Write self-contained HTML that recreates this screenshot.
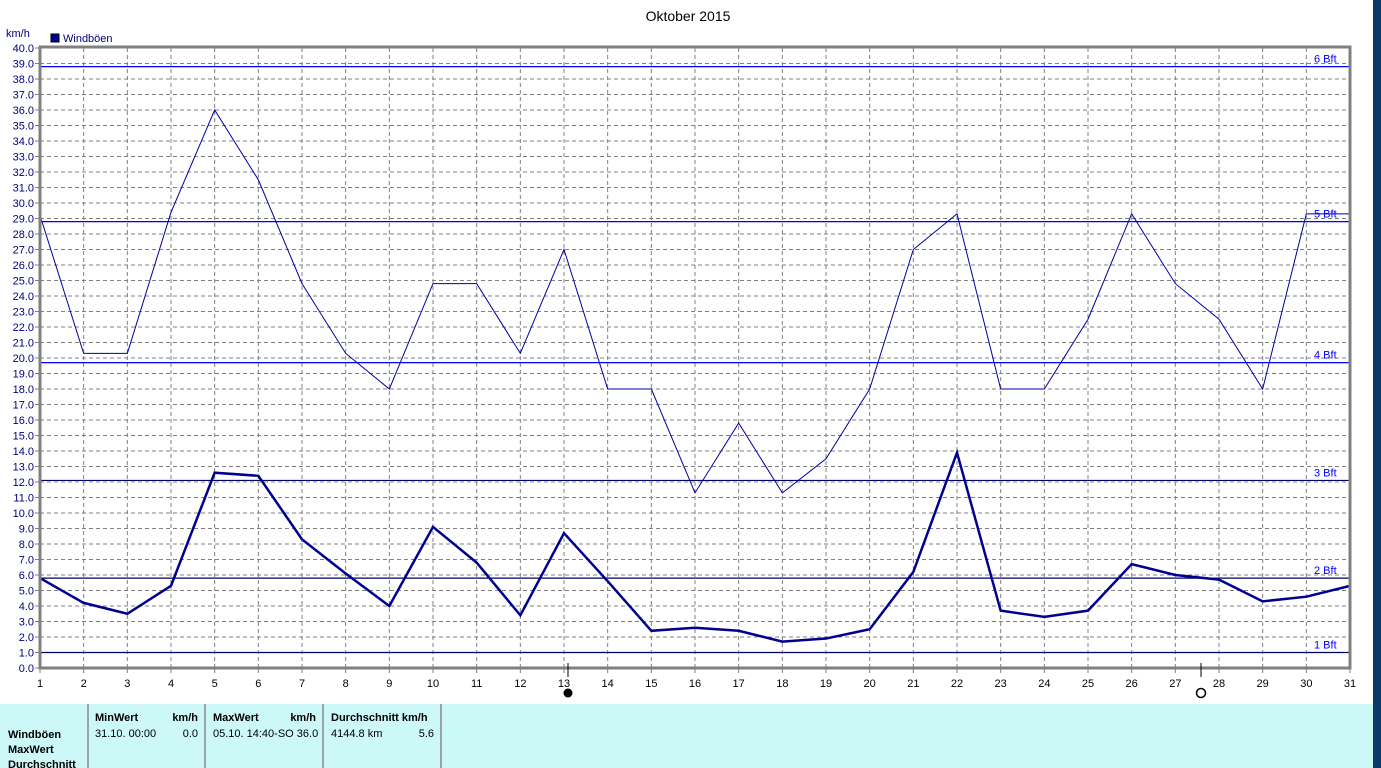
<!DOCTYPE html><html><head><meta charset="utf-8"><style>
body{margin:0;width:1381px;height:768px;background:#fff;overflow:hidden;font-family:"Liberation Sans",sans-serif;position:relative}
.t{position:absolute;font-size:11px}
</style></head><body>
<svg id="s" width="1381" height="768" style="position:absolute;left:0;top:0" font-family="Liberation Sans, sans-serif"></svg>
<script>
var s='',X0=40,DX=(1350-40)/30,Y0=668,K=15.5;
function x(d){return X0+(d-1)*DX}function y(v){return Y0-v*K}
s+='<rect x="1373" y="0" width="8" height="768" fill="#0a3a6a"/>';
s+='<text x="688" y="21" font-size="14" text-anchor="middle">Oktober 2015</text>';
s+='<text x="6" y="37" font-size="11" fill="#000080">km/h</text>';
s+='<rect x="51" y="34" width="8" height="8" fill="#0000a0" stroke="#000" stroke-width="1"/><text x="63" y="42" font-size="11" fill="#000080">Windböen</text>';
for(var v=1;v<40;v++)s+='<line x1="40" x2="1350" y1="'+y(v)+'" y2="'+y(v)+'" stroke="#808080" stroke-dasharray="4,3"/>';
for(var d=2;d<31;d++)s+='<line y1="48" y2="668" x1="'+x(d)+'" x2="'+x(d)+'" stroke="#808080" stroke-dasharray="4,3"/>';
for(var v=0;v<=40;v++)s+='<text x="34" y="'+(y(v)+4)+'" font-size="11" fill="#000080" text-anchor="end">'+v.toFixed(1)+'</text><line x1="35" x2="40" y1="'+y(v)+'" y2="'+y(v)+'" stroke="#808080"/>';
for(var d=1;d<=31;d++)s+='<text x="'+x(d)+'" y="687" font-size="11" text-anchor="middle">'+d+'</text><line y1="668" y2="673" x1="'+x(d)+'" x2="'+x(d)+'" stroke="#808080"/>';
var B=[[38.8,'6 Bft','#0000ff'],[28.8,'5 Bft','#0000ff'],[19.7,'4 Bft','#0000ff'],[12.1,'3 Bft','#000060'],[5.8,'2 Bft','#000060'],[1.0,'1 Bft','#000060']];
B.forEach(function(b){s+='<line x1="40" x2="1350" y1="'+y(b[0])+'" y2="'+y(b[0])+'" stroke="'+b[2]+'" stroke-width="1.2"/><text x="1314" y="'+(y(b[0])-4)+'" font-size="11" fill="#0000ff">'+b[1]+'</text>'});
var U=[29.2,20.3,20.3,29.4,36.0,31.5,24.8,20.3,18.0,24.8,24.8,20.3,27.0,18.0,18.0,11.3,15.8,11.3,13.5,18.0,27.0,29.3,18.0,18.0,22.5,29.3,24.8,22.5,18.0,29.3,29.3];
var L=[5.8,4.2,3.5,5.3,12.6,12.4,8.3,6.1,4.0,9.1,6.8,3.4,8.7,5.6,2.4,2.6,2.4,1.7,1.9,2.5,6.2,13.9,3.7,3.3,3.7,6.7,6.0,5.7,4.3,4.6,5.3];
function pl(a,c,w){return '<polyline fill="none" stroke="'+c+'" stroke-width="'+w+'" points="'+a.map(function(v,i){return x(i+1)+','+y(v)}).join(' ')+'"/>'}
s+=pl(U,'#0000a0',1)+pl(L,'#000090',2.5);
s+='<rect x="40" y="47" width="1310" height="621" fill="none" stroke="#808080" stroke-width="3"/>';
s+='<line x1="568" x2="568" y1="663" y2="677" stroke="#000"/><circle cx="568" cy="693" r="4.5" fill="#000"/>';
s+='<line x1="1201" x2="1201" y1="663" y2="677" stroke="#000"/><circle cx="1201" cy="693" r="4.5" fill="none" stroke="#000" stroke-width="1.5"/>';
s+='<rect x="0" y="704" width="1373" height="64" fill="#ccf8f8"/>';
[88,205,323,441].forEach(function(a){s+='<line x1="'+a+'" x2="'+a+'" y1="704" y2="768" stroke="#888" stroke-width="1.5"/>'});
function t(a,b,str,bo,an){s+='<text x="'+a+'" y="'+b+'" font-size="11"'+(bo?' font-weight="bold"':'')+(an?' text-anchor="end"':'')+'>'+str+'</text>'}
t(95,721,'MinWert',1);t(198,721,'km/h',1,1);t(213,721,'MaxWert',1);t(316,721,'km/h',1,1);t(331,721,'Durchschnitt km/h',1);
t(8,738,'Windböen',1);t(8,753,'MaxWert',1);t(8,768,'Durchschnitt',1);
t(95,737,'31.10.  00:00');t(198,737,'0.0',0,1);t(213,737,'05.10.  14:40-SO 36.0');t(331,737,'4144.8 km');t(434,737,'5.6',0,1);
document.getElementById('s').innerHTML=s;
</script></body></html>
